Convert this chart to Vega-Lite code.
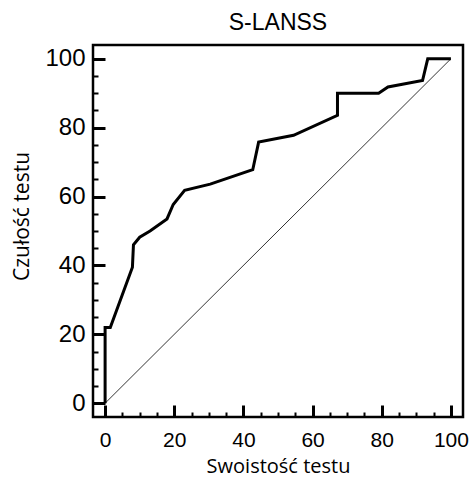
{
  "$schema": "https://vega.github.io/schema/vega-lite/v6.json",
  "autosize": {"type": "none"},
  "padding": {"left": 93, "top": 45, "right": 10, "bottom": 62},
  "width": 370,
  "height": 372,
  "background": "white",
  "title": {
    "text": "S-LANSS",
    "font": "Liberation Sans",
    "fontSize": 23,
    "fontWeight": "normal",
    "color": "black",
    "anchor": "middle",
    "offset": 10
  },
  "config": {
    "view": {"stroke": "black", "strokeWidth": 2.5},
    "axis": {
      "domain": false,
      "grid": false,
      "tickColor": "black",
      "labelColor": "black",
      "titleColor": "black",
      "labelFont": "Liberation Sans",
      "titleFont": "Open Sans",
      "titleFontWeight": "normal",
      "titleFontSize": 21
    }
  },
  "datasets": {
    "roc": [
      {"step": 1, "fpr": 0, "tpr": 0},
      {"step": 2, "fpr": 0, "tpr": 22},
      {"step": 3, "fpr": 1.5, "tpr": 22},
      {"step": 4, "fpr": 7.9, "tpr": 39.5},
      {"step": 5, "fpr": 8.2, "tpr": 46},
      {"step": 6, "fpr": 10, "tpr": 48.2},
      {"step": 7, "fpr": 13, "tpr": 50},
      {"step": 8, "fpr": 17.9, "tpr": 53.5},
      {"step": 9, "fpr": 19.7, "tpr": 57.7},
      {"step": 10, "fpr": 23, "tpr": 61.8},
      {"step": 11, "fpr": 30.4, "tpr": 63.6},
      {"step": 12, "fpr": 42.7, "tpr": 67.8},
      {"step": 13, "fpr": 44.4, "tpr": 75.8},
      {"step": 14, "fpr": 54.5, "tpr": 77.8},
      {"step": 15, "fpr": 67.2, "tpr": 83.6},
      {"step": 16, "fpr": 67.2, "tpr": 90},
      {"step": 17, "fpr": 79.1, "tpr": 90},
      {"step": 18, "fpr": 81.8, "tpr": 91.8},
      {"step": 19, "fpr": 91.8, "tpr": 93.7},
      {"step": 20, "fpr": 93.3, "tpr": 100},
      {"step": 21, "fpr": 100, "tpr": 100}
    ],
    "diag": [
      {"fpr": 0, "tpr": 0},
      {"fpr": 100, "tpr": 100}
    ]
  },
  "encoding": {
    "x": {
      "field": "fpr",
      "type": "quantitative",
      "scale": {"domain": [-3.5, 103.5], "nice": false, "zero": false},
      "axis": {
        "title": "Swoistość testu",
        "values": [0, 5, 10, 15, 20, 25, 30, 35, 40, 45, 50, 55, 60, 65, 70, 75, 80, 85, 90, 95, 100],
        "labelExpr": "datum.value % 20 === 0 ? datum.label : ''",
        "labelFontSize": 21,
        "labelPadding": 24,
        "tickSize": {"condition": {"test": "datum.value % 20 === 0", "value": -12}, "value": -5},
        "tickWidth": {"condition": {"test": "datum.value % 20 === 0", "value": 3}, "value": 2},
        "titleFontSize": 20,
        "titleBaseline": "alphabetic",
        "titleY": 55
      }
    },
    "y": {
      "field": "tpr",
      "type": "quantitative",
      "scale": {"domain": [-4, 104], "nice": false, "zero": false},
      "axis": {
        "title": "Czułość testu",
        "values": [0, 5, 10, 15, 20, 25, 30, 35, 40, 45, 50, 55, 60, 65, 70, 75, 80, 85, 90, 95, 100],
        "labelExpr": "datum.value % 20 === 0 ? datum.label : ''",
        "labelFontSize": 24,
        "labelPadding": 20,
        "tickSize": {"condition": {"test": "datum.value % 20 === 0", "value": -12}, "value": -5},
        "tickWidth": {"condition": {"test": "datum.value % 20 === 0", "value": 3}, "value": 2},
        "titlePadding": 12,
        "titleY": 171
      }
    }
  },
  "layer": [
    {
      "data": {"name": "diag"},
      "mark": {"type": "line", "color": "black", "strokeWidth": 0.8}
    },
    {
      "data": {"name": "roc"},
      "mark": {"type": "line", "color": "black", "strokeWidth": 3, "strokeJoin": "miter"},
      "encoding": {"order": {"field": "step", "type": "quantitative"}}
    }
  ]
}
